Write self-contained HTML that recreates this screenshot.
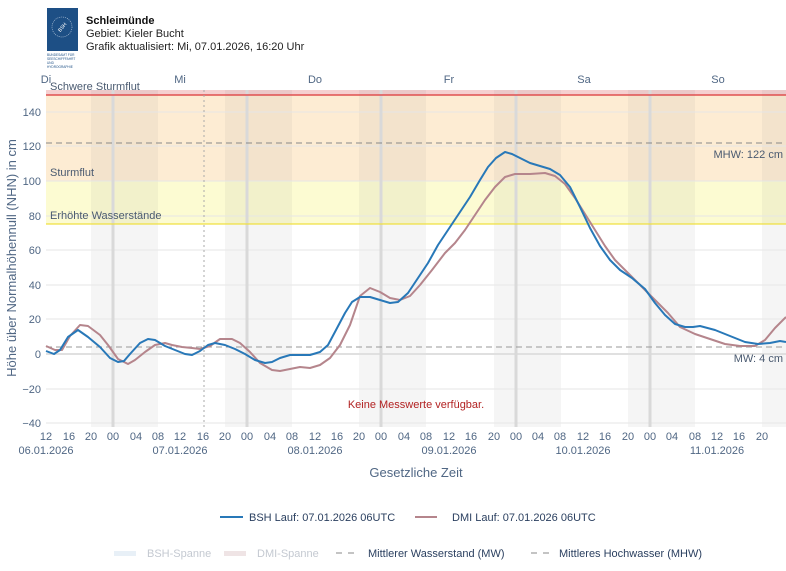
<!DOCTYPE html>
<html><head><meta charset="utf-8"><style>
html,body{margin:0;padding:0;background:#fff;}
body{width:786px;height:566px;overflow:hidden;position:relative;font-family:"Liberation Sans",sans-serif;}
</style></head><body>
<svg width="786" height="566" viewBox="0 0 786 566" xmlns="http://www.w3.org/2000/svg" font-family="Liberation Sans, sans-serif">
<rect x="47" y="8" width="31" height="43" fill="#1d4f85"/>
<circle cx="62" cy="27" r="10" fill="none" stroke="#c9d6e6" stroke-width="0.6" stroke-dasharray="1,1"/>
<text x="62" y="29" font-size="5" fill="#fff" text-anchor="middle" transform="rotate(-50 62 27)">BSH</text>
<text x="47" y="56" font-size="3.2" fill="#1d4f85">BUNDESAMT FÜR</text>
<text x="47" y="60" font-size="3.2" fill="#1d4f85">SEESCHIFFFAHRT</text>
<text x="47" y="64" font-size="3.2" fill="#1d4f85">UND</text>
<text x="47" y="68" font-size="3.2" fill="#1d4f85">HYDROGRAPHIE</text>
<text x="86" y="24" font-size="11" font-weight="bold" fill="#111">Schleimünde</text>
<text x="86" y="37" font-size="11" fill="#222">Gebiet: Kieler Bucht</text>
<text x="86" y="50" font-size="11" fill="#222">Grafik aktualisiert: Mi, 07.01.2026, 16:20 Uhr</text>

<rect x="46" y="90" width="740" height="5" fill="#f5d0d0"/>
<rect x="46" y="95" width="740" height="86" fill="#fdecd3"/>
<rect x="46" y="181" width="740" height="43" fill="#fcfbd2"/>
<g fill="#7a7a7a" fill-opacity="0.075">
<rect x="91" y="90" width="67" height="337"/>
<rect x="225" y="90" width="67" height="337"/>
<rect x="359" y="90" width="67" height="337"/>
<rect x="494" y="90" width="67" height="337"/>
<rect x="628" y="90" width="67" height="337"/>
<rect x="762" y="90" width="24" height="337"/>
</g>
<g stroke="#e6e6e6" stroke-width="1">
<line x1="46" x2="786" y1="112" y2="112"/><line x1="46" x2="786" y1="146" y2="146"/>
<line x1="46" x2="786" y1="181" y2="181"/><line x1="46" x2="786" y1="216" y2="216"/>
<line x1="46" x2="786" y1="250" y2="250"/><line x1="46" x2="786" y1="285" y2="285"/>
<line x1="46" x2="786" y1="319" y2="319"/><line x1="46" x2="786" y1="389" y2="389"/>
<line x1="46" x2="786" y1="423" y2="423"/>
</g>
<line x1="46" x2="786" y1="354" y2="354" stroke="#e0e0e0" stroke-width="2"/>
<g stroke="#d9d9d9" stroke-width="3">
<line x1="113" x2="113" y1="90" y2="427"/><line x1="247" x2="247" y1="90" y2="427"/>
<line x1="381" x2="381" y1="90" y2="427"/><line x1="516" x2="516" y1="90" y2="427"/>
<line x1="650" x2="650" y1="90" y2="427"/>
</g>
<line x1="46" x2="786" y1="95" y2="95" stroke="#e05050" stroke-width="1.5"/>
<line x1="46" x2="786" y1="224" y2="224" stroke="#f0e040" stroke-width="1.2"/>
<line x1="46" x2="786" y1="143" y2="143" stroke="#888" stroke-dasharray="6,4"/>
<line x1="46" x2="786" y1="347" y2="347" stroke="#999" stroke-dasharray="6,4"/>
<line x1="204" x2="204" y1="90" y2="427" stroke="#aaa" stroke-dasharray="2,3"/>

<g font-size="11" fill="#4a5a70">
<text x="50" y="90">Schwere Sturmflut</text>
<text x="50" y="176">Sturmflut</text>
<text x="50" y="219">Erhöhte Wasserstände</text>
<text x="783" y="158" text-anchor="end">MHW: 122 cm</text>
<text x="783" y="362" text-anchor="end">MW: 4 cm</text>
</g>
<text x="416" y="408" font-size="11" fill="#b22222" text-anchor="middle">Keine Messwerte verfügbar.</text>

<polyline fill="none" stroke="#b5858c" stroke-width="2" stroke-linejoin="round" points="46,346 55,350 62,350 70,336 80,325 88,326 100,335 108,345 118,359 128,364 135,360 145,352 155,345 165,343 172,345 182,347 192,348 200,349 210,346 220,339 232,339 240,343 250,352 260,363 272,370 280,371 290,369 300,367 310,368 320,365 330,358 340,345 350,325 360,296 370,288 380,292 390,298 400,300 410,296 420,285 432,270 445,253 455,243 465,230 475,215 485,200 495,187 505,177 515,174 530,174 545,173 555,176 565,184 575,198 585,214 595,230 605,246 615,260 625,270 635,280 645,290 655,300 668,313 680,327 695,334 710,339 725,344 740,346 755,346 765,340 775,328 786,317"/>
<polyline fill="none" stroke="#2878b8" stroke-width="2" stroke-linejoin="round" points="46,351 54,354 60,350 68,337 78,330 88,337 100,347 110,358 118,362 124,361 130,354 140,343 148,339 155,340 165,346 175,350 185,354 192,355 200,351 208,345 215,343 225,345 235,349 245,354 255,360 265,363 272,362 280,358 290,355 300,355 310,355 320,352 328,345 336,330 345,313 352,302 360,297 370,297 380,300 390,303 398,302 408,293 418,278 428,263 438,245 448,230 460,212 470,197 480,180 488,167 496,158 505,152 512,154 520,158 530,163 540,166 550,169 560,175 570,187 580,207 590,228 600,246 610,260 620,270 632,278 645,289 655,303 665,315 675,324 685,327 693,327 700,326 715,330 730,336 745,342 758,344 770,343 780,341 786,342"/>

<g font-size="11" fill="#506784" text-anchor="end">
<text x="41" y="116">140</text><text x="41" y="150">120</text><text x="41" y="185">100</text>
<text x="41" y="220">80</text><text x="41" y="254">60</text><text x="41" y="289">40</text>
<text x="41" y="323">20</text><text x="41" y="358">0</text><text x="41" y="393">−20</text>
<text x="41" y="427">−40</text>
</g>
<g font-size="11" fill="#506784" text-anchor="middle">
<text x="46" y="83">Di</text><text x="180" y="83">Mi</text><text x="315" y="83">Do</text>
<text x="449" y="83">Fr</text><text x="584" y="83">Sa</text><text x="718" y="83">So</text>
</g>
<g font-size="11" fill="#506784" text-anchor="middle">
<text x="46" y="440">12</text><text x="69" y="440">16</text><text x="91" y="440">20</text>
<text x="113" y="440">00</text><text x="136" y="440">04</text><text x="158" y="440">08</text>
<text x="180" y="440">12</text><text x="203" y="440">16</text><text x="225" y="440">20</text>
<text x="247" y="440">00</text><text x="270" y="440">04</text><text x="292" y="440">08</text>
<text x="315" y="440">12</text><text x="337" y="440">16</text><text x="359" y="440">20</text>
<text x="381" y="440">00</text><text x="404" y="440">04</text><text x="426" y="440">08</text>
<text x="449" y="440">12</text><text x="471" y="440">16</text><text x="494" y="440">20</text>
<text x="516" y="440">00</text><text x="538" y="440">04</text><text x="560" y="440">08</text>
<text x="583" y="440">12</text><text x="605" y="440">16</text><text x="628" y="440">20</text>
<text x="650" y="440">00</text><text x="672" y="440">04</text><text x="695" y="440">08</text>
<text x="717" y="440">12</text><text x="739" y="440">16</text><text x="762" y="440">20</text>
<text x="46" y="454">06.01.2026</text><text x="180" y="454">07.01.2026</text>
<text x="315" y="454">08.01.2026</text><text x="449" y="454">09.01.2026</text>
<text x="583" y="454">10.01.2026</text><text x="717" y="454">11.01.2026</text>
</g>
<text x="416" y="477" font-size="13" fill="#506784" text-anchor="middle">Gesetzliche Zeit</text>
<text x="16" y="258" font-size="13" fill="#506784" text-anchor="middle" transform="rotate(-90 16 258)">Höhe über Normalhöhennull (NHN) in cm</text>

<line x1="220" x2="243" y1="517" y2="517" stroke="#2878b8" stroke-width="2"/>
<text x="249" y="521" font-size="11" fill="#2a3f5f">BSH Lauf: 07.01.2026 06UTC</text>
<line x1="415" x2="437" y1="517" y2="517" stroke="#b5858c" stroke-width="2"/>
<text x="452" y="521" font-size="11" fill="#2a3f5f">DMI Lauf: 07.01.2026 06UTC</text>
<rect x="114" y="551" width="22" height="5" fill="#e8f0f7"/>
<text x="147" y="557" font-size="11" fill="#c4c9d1">BSH-Spanne</text>
<rect x="224" y="551" width="22" height="5" fill="#efe4e5"/>
<text x="257" y="557" font-size="11" fill="#c4c9d1">DMI-Spanne</text>
<line x1="336" x2="358" y1="553" y2="553" stroke="#888" stroke-dasharray="6,6"/>
<text x="368" y="557" font-size="11" fill="#2a3f5f">Mittlerer Wasserstand (MW)</text>
<line x1="531" x2="553" y1="553" y2="553" stroke="#888" stroke-dasharray="6,6"/>
<text x="559" y="557" font-size="11" fill="#2a3f5f">Mittleres Hochwasser (MHW)</text>
</svg>
</body></html>
